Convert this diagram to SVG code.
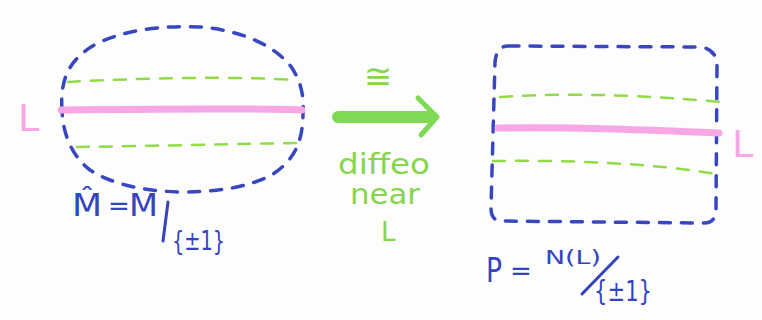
<svg xmlns="http://www.w3.org/2000/svg" width="762" height="320" viewBox="0 0 762 320">
<style>
.blue{fill:none;stroke:#3847c0;stroke-width:3.5;stroke-linecap:round;stroke-dasharray:11 11}
.gd{fill:none;stroke:#8fdc46;stroke-width:2.5;stroke-linecap:round;stroke-dasharray:12 11}
.pink{fill:none;stroke:#f7a6e6;stroke-width:7;stroke-linecap:round}
.tb{fill:#3443c0;font-family:"DejaVu Sans",sans-serif}
.tg{fill:#85d64a;font-family:"DejaVu Sans",sans-serif}
.tp{fill:#f7a6e6;font-family:"DejaVu Sans",sans-serif}
.ln{fill:none;stroke:#3443c0;stroke-width:3;stroke-linecap:round}
</style>
<rect width="762" height="320" fill="#fdfdfd"/>
<g id="left-manifold">
<path class="blue" d="M 62 110 C 60 80 68 58 100 42 C 135 27 170 26 200 27 C 240 30 275 45 292 68 C 301 82 304 96 303 112 C 303 140 296 160 270 176 C 245 188 215 192 180 192 C 140 191 110 183 90 170 C 72 156 63 135 62 110 Z"/>
<path class="gd" d="M 68 82 C 140 78 230 76 297 80"/>
<path class="gd" d="M 77 147 C 150 146 230 144 297 143"/>
<path class="pink" d="M 61 110 C 140 109 240 108 302 110"/>
<text class="tp" x="18" y="131" font-size="38">L</text>
<text class="tb" x="72" y="216" font-size="32" textLength="30" lengthAdjust="spacingAndGlyphs">M̂</text>
<text class="tb" x="108" y="215" font-size="26">=</text>
<text class="tb" x="129" y="216" font-size="32" textLength="29" lengthAdjust="spacingAndGlyphs">M</text>
<path class="ln" d="M 168 202 L 163 241"/>
<text class="tb" x="172" y="250" font-size="27" textLength="53" lengthAdjust="spacingAndGlyphs">{±1}</text>
</g>
<g id="arrow">
<path d="M 338 117 L 432 117" stroke="#7fd955" stroke-width="12" stroke-linecap="round" fill="none"/>
<path d="M 418 98 L 437 117 L 421 135" stroke="#7fd955" stroke-width="5" stroke-linecap="round" stroke-linejoin="round" fill="none"/>
<text class="tg" x="378" y="88" font-size="34" text-anchor="middle">≅</text>
<text class="tg" x="338" y="174" font-size="28" textLength="92" lengthAdjust="spacingAndGlyphs">diffeo</text>
<text class="tg" x="350" y="204" font-size="28" textLength="70" lengthAdjust="spacingAndGlyphs">near</text>
<text class="tg" x="381" y="241" font-size="26">L</text>
</g>
<g id="right-manifold">
<path class="blue" d="M 508 46 L 700 47 C 712 48 717 56 717 66 L 716 210 C 716 218 712 223 704 223 L 500 221 C 493 220 491 215 491 208 L 495 62 C 496 52 500 46 508 46 Z"/>
<path class="gd" d="M 500 97 C 580 92 650 96 722 102"/>
<path class="gd" d="M 493 161 C 570 160 650 163 716 174"/>
<path class="pink" d="M 498 128 C 580 127 650 130 719 133"/>
<text class="tp" x="732" y="157" font-size="38">L</text>
<text class="tb" x="486" y="282" font-size="34" textLength="16" lengthAdjust="spacingAndGlyphs">P</text>
<text class="tb" x="510" y="280" font-size="26">=</text>
<text class="tb" x="545" y="264" font-size="20" textLength="56" lengthAdjust="spacingAndGlyphs">N(L)</text>
<path class="ln" d="M 582 294 L 618 257"/>
<text class="tb" x="594" y="301" font-size="28" textLength="58" lengthAdjust="spacingAndGlyphs">{±1}</text>
</g>
</svg>
